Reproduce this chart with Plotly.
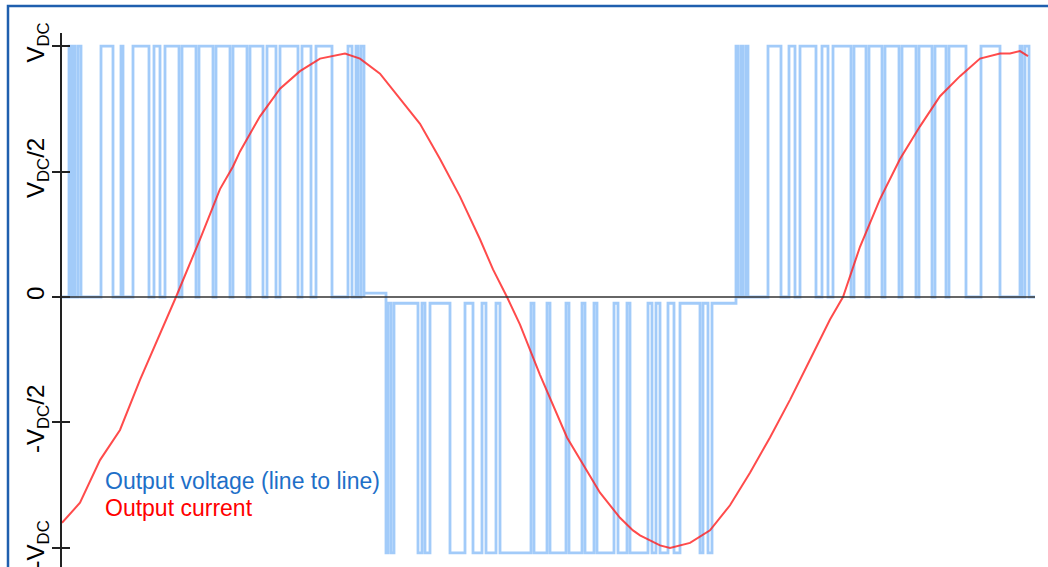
import plotly.graph_objects as go

# time axis in samples (arbitrary units, 0 .. 973)
T_END = 973

# Output voltage switching intervals (start, end)
pos1_pulses = [(7, 9), (11, 13), (16, 19), (39, 51), (59, 61), (71, 87), (92, 98),
               (103, 117), (120, 134), (137, 151), (154, 168), (171, 185), (188, 201),
               (205, 214), (218, 236), (240, 249), (254, 270), (286, 290), (294, 296),
               (299, 302)]
neg_pulses = [(324, 326), (329, 332), (356, 360), (363, 368), (388, 403), (411, 420),
              (424, 434), (438, 469), (472, 485), (488, 504), (507, 520), (523, 532),
              (535, 552), (556, 565), (568, 586), (590, 594), (598, 606), (612, 618),
              (638, 641), (646, 650)]
pos2_pulses = [(674, 676), (679, 681), (684, 686), (706, 719), (727, 733), (738, 754),
               (760, 766), (771, 789), (792, 804), (807, 820), (823, 837), (840, 854),
               (857, 870), (873, 884), (887, 904), (919, 938), (958, 960), (963, 967)]
V_HIGH = 1.0
V_LOW = -1.02
ZERO_POS = 0.0
ZERO_MID = 0.015
ZERO_NEG = -0.025

# Output current samples
cur_t = [0, 18, 38, 58, 78, 98, 114, 138, 158, 171, 178, 198, 218, 238, 258, 283, 298,
         318, 338, 358, 378, 398, 418, 431, 445, 458, 478, 498, 505, 538, 558, 571, 578,
         598, 608, 628, 648, 668, 688, 708, 728, 748, 768, 781, 798, 818, 838, 858, 878,
         898, 918, 938, 948, 958, 966]
cur_v = [-0.90, -0.82, -0.65, -0.53, -0.33, -0.15, 0.0, 0.23, 0.43, 0.52, 0.58, 0.72,
         0.83, 0.90, 0.95, 0.97, 0.95, 0.89, 0.79, 0.69, 0.55, 0.40, 0.23, 0.11, 0.0,
         -0.11, -0.31, -0.49, -0.56, -0.78, -0.88, -0.93, -0.95, -0.99, -1.00, -0.98,
         -0.93, -0.83, -0.70, -0.56, -0.41, -0.25, -0.09, 0.0, 0.20, 0.39, 0.55, 0.68,
         0.80, 0.88, 0.95, 0.97, 0.97, 0.98, 0.96]

tick_vals = [1, 0.5, 0, -0.5, -1]
tick_text = ["V<sub>DC</sub>", "V<sub>DC</sub>/2", "0", "-V<sub>DC</sub>/2", "-V<sub>DC</sub>"]


def build_wave():
    xs, ys = [0], [ZERO_POS]
    for s, e in pos1_pulses:
        xs += [s, s, e, e]
        ys += [ZERO_POS, V_HIGH, V_HIGH, ZERO_POS]
    xs.append(pos1_pulses[-1][1])
    ys.append(ZERO_MID)
    for s, e in neg_pulses:
        xs += [s, s, e, e]
        ys += [ZERO_NEG, V_LOW, V_LOW, ZERO_NEG]
    for s, e in pos2_pulses:
        xs += [s, s, e, e]
        ys += [ZERO_POS, V_HIGH, V_HIGH, ZERO_POS]
    xs.append(T_END)
    ys.append(ZERO_POS)
    return xs, ys


wx, wy = build_wave()

fig = go.Figure()
fig.add_trace(go.Scatter(x=wx, y=wy, mode="lines", line_shape="hv",
                         line=dict(color="rgba(100,168,245,0.6)", width=2.8),
                         hoverinfo="skip", showlegend=False))
fig.add_trace(go.Scatter(x=cur_t, y=cur_v, mode="lines",
                         line=dict(color="rgba(255,30,30,0.8)", width=2),
                         hoverinfo="skip", showlegend=False))
fig.add_trace(go.Scatter(x=[], y=[], yaxis="y2", showlegend=False))

YR = [-1.076, 1.052]
fig.update_layout(
    width=1048, height=567,
    margin=dict(l=62, r=13, t=33, b=0, autoexpand=False),
    paper_bgcolor="white", plot_bgcolor="white",
    font=dict(family="Arial, Liberation Sans, sans-serif", color="black"),
    xaxis=dict(range=[0, T_END], showgrid=False, zeroline=False, showline=False,
               showticklabels=False, ticks="", automargin=False),
    yaxis=dict(range=YR, showgrid=False, zeroline=False, showline=True, automargin=False,
               linecolor="#222", linewidth=1.5, tickvals=tick_vals, ticktext=tick_text,
               ticks="outside", ticklen=8, tickwidth=1.5, tickcolor="#222",
               tickangle=-90, tickfont=dict(size=24, color="black"),
               ticklabeloverflow="allow", ticklabelstandoff=-1),
    yaxis2=dict(range=YR, overlaying="y", side="left", showgrid=False, zeroline=False,
                showline=False, tickvals=tick_vals, ticks="inside", ticklen=8,
                automargin=False, tickwidth=1.5, tickcolor="#222", showticklabels=False),
    shapes=[
        dict(type="line", xref="paper", yref="y", x0=0, x1=1, y0=0, y1=0,
             line=dict(color="#333", width=1.5), layer="above"),
        dict(type="rect", xref="paper", yref="paper", x0=-0.0555, x1=1.05,
             y0=-0.05, y1=1.0506, line=dict(color="#1f5fae", width=2.5), layer="above"),
    ],
    annotations=[
        dict(x=41, y=-0.733, xref="x", yref="y", text="Output voltage (line to line)",
             showarrow=False, xanchor="left", yanchor="middle",
             font=dict(size=23, color="#1e6fc8")),
        dict(x=41, y=-0.84, xref="x", yref="y", text="Output current",
             showarrow=False, xanchor="left", yanchor="middle",
             font=dict(size=23, color="#ff0000")),
    ],
)

fig.write_html("out.html", config={"displayModeBar": False},
               post_script="document.body.style.margin='0px';")
